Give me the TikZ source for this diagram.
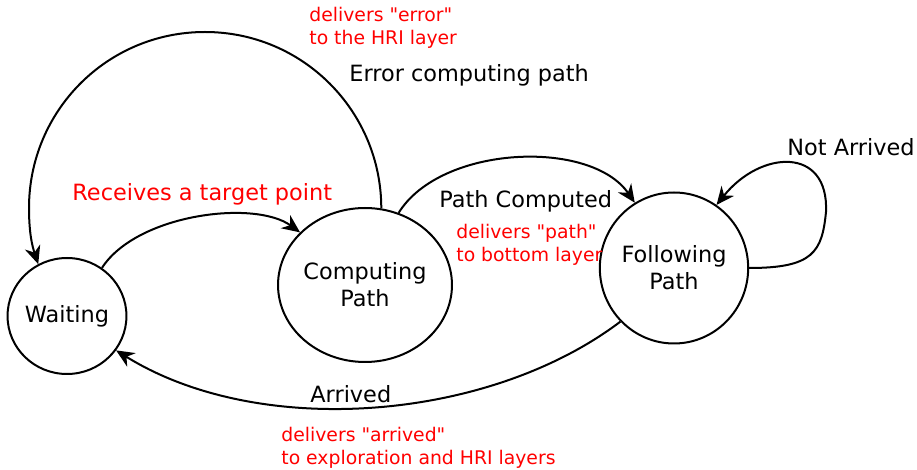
\documentclass[tikz,border=0pt]{standalone}
\usepackage{fontspec}
\setmainfont{DejaVu Sans}[Ligatures=TeXOff]
\usepackage{tikz}
\usetikzlibrary{shapes.geometric, arrows.meta, positioning, calc}
\tikzstyle{state} = [ellipse, draw=black, line width=1pt, inner sep=0pt, align=center, font=\fontsize{11.2}{13.5}\selectfont]
\tikzstyle{lbl} = [anchor=base west, inner sep=0pt, font=\fontsize{11.2}{13.5}\selectfont]
\tikzstyle{note} = [anchor=base west, inner sep=0pt, align=left, text=red, font=\fontsize{9.4}{11.5}\selectfont]
\tikzstyle{arrow} = [line width=1pt, -{Stealth[length=9pt, width=8pt]}]

\begin{document}
\begin{tikzpicture}[x=0.5pt, y=-0.5pt]
            \useasboundingbox (0,0) rectangle (917,470);
            \node (wait) [state, minimum width=58pt, minimum height=58pt] at (67,316) {Waiting};
            \node (comp) [state, minimum width=82pt, minimum height=77pt] at (365,285) {Computing\\Path};
            \node (foll) [state, minimum width=72pt, minimum height=75.5pt] at (674,268) {Following\\Path};

            \coordinate (errtop) at (205,32);
            \coordinate (errleft) at (29,208);
            \coordinate (loopr) at (826,212);

            \node (noteerr) [note] at (309,45) {delivers "error"\\to the HRI layer};
            \node (lblerr) [lbl] at (349,82) {Error computing path};
            \node (lblnot) [lbl] at (787,156) {Not Arrived};
            \node (lblrec) [lbl, text=red] at (72,201) {Receives a target point};
            \node (lblpath) [lbl] at (439,208) {Path Computed};
            \node (notepath) [note] at (456,262) {delivers "path"\\to bottom layer};
            \node (lblarr) [lbl] at (310,403) {Arrived};
            \node (notearr) [note] at (281,465) {delivers "arrived"\\to exploration and HRI layers};

            \draw [arrow] (wait.54) .. controls +(35,-54) and +(-45,-33) .. (comp.141);
            \draw [arrow] (comp.65) .. controls +(42,-68) and +(-44,-64) .. (foll.121);
            \draw [arrow] (comp.78) .. controls +(0,-97) and +(98,0) .. (errtop)
                .. controls +(-98,0) and +(0,-97) .. (errleft)
                .. controls +(0,25) and +(-6,-18) .. (wait.119);
            \draw [arrow] (foll.225) .. controls +(-132,100) and +(143,89) .. (wait.325);
            \draw [arrow] (foll.0) .. controls +(64,0) and +(-4,40) .. (loopr)
                .. controls +(3,-66) and +(44,-55) .. (foll.56);
        \end{tikzpicture}
\end{document}
